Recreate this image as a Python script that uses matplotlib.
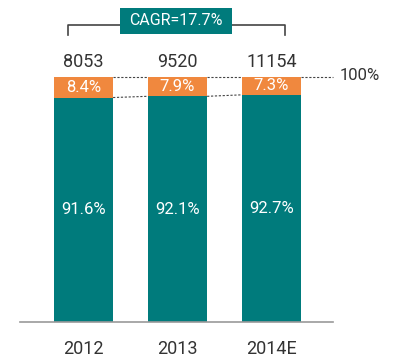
import matplotlib
matplotlib.use("Agg")
import matplotlib.pyplot as plt
from matplotlib.patches import Rectangle

years = ["2012", "2013", "2014E"]
totals = [8053, 9520, 11154]
share_main = [91.6, 92.1, 92.7]
share_top = [8.4, 7.9, 7.3]
cagr_label = "CAGR=17.7%"

teal = "#007B7C"
orange = "#F0883E"
grey = "#444444"

plt.rcParams['font.family'] = ['Roboto', 'DejaVu Sans']

fig = plt.figure(figsize=(3.95, 3.58), dpi=100)
ax = fig.add_axes([20/395, (358-322)/358, 313/395, 322/358])
ax.set_xlim(-0.675, 2.654)
ax.set_ylim(0, 131.4)
for s in ax.spines.values():
    s.set_visible(False)
ax.spines['bottom'].set_visible(True)
ax.spines['bottom'].set_color("#999999")
ax.spines['bottom'].set_linewidth(1.2)
ax.set_xticks([])
ax.set_yticks([])

x = list(range(len(years)))
w = 0.63
ax.bar(x, share_main, width=w, color=teal)
ax.bar(x, share_top, bottom=share_main, width=w, color=orange)

for i in x:
    ax.text(i, share_main[i] / 2, f"{share_main[i]:.1f}%", ha="center", va="center",
            color="white", fontsize=12)
    ax.text(i, share_main[i] + share_top[i] / 2, f"{share_top[i]:.1f}%", ha="center",
            va="center", color="white", fontsize=12)
    ax.text(i, 106.2, f"{totals[i]}", ha="center", va="center", color="#333333",
            fontsize=13)
    ax.text(i, -11, years[i], ha="center", va="center", color="#333333",
            fontsize=13, clip_on=False)

# dotted connectors
for i in range(len(x) - 1):
    ax.plot([i + w/2, i + 1 - w/2], [100, 100], ls=(0, (2, 1.5)), color=grey, lw=0.8)
    ax.plot([i + w/2, i + 1 - w/2], [share_main[i], share_main[i + 1]],
            ls=(0, (2, 1.5)), color=grey, lw=0.8)
ax.plot([2 + w/2, 2.654], [100, 100], ls=(0, (2, 1.5)), color=grey, lw=0.8, clip_on=False)
ax.text(2.72, 100.6, "100%", ha="left", va="center", color="#333333", fontsize=12,
        clip_on=False)

# CAGR bracket
yb = 121.2
ax.plot([-0.165, -0.165, 2.14, 2.14], [yb - 4.2, yb, yb, yb - 4.2], color=grey, lw=1.2,
        clip_on=False)
ax.add_patch(Rectangle((0.385, 117.6), 1.19, 10.6, facecolor=teal, edgecolor="none",
                       clip_on=False, zorder=3))
ax.text(0.98, 122.9, cagr_label, ha="center", va="center", color="white", fontsize=11.5,
        zorder=4, clip_on=False)

fig.savefig("out.png", dpi=100)
